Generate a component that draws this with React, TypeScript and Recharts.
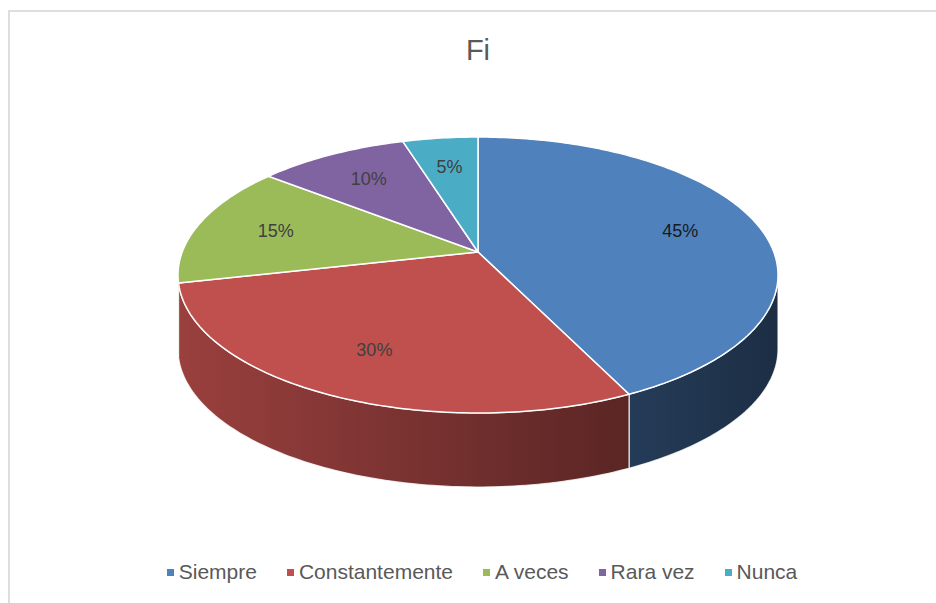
import React from 'react';
import { PieChart, Pie, Legend } from 'recharts';

const CATEGORIES = ['Siempre', 'Constantemente', 'A veces', 'Rara vez', 'Nunca'];
const VALUES = [45, 30, 15, 10, 5];
const LABELS = ['45%', '30%', '15%', '10%', '5%'];
const COLORS = ['#4f81bd', '#c0504d', '#9bbb59', '#8064a2', '#4bacc6'];
const TITLE = 'Fi';

const data = CATEGORIES.map((name, i) => ({ name, value: VALUES[i], label: LABELS[i] }));

const W = 936;
const H = 603;
const CX = 473;
const CY = 247;
const R = 300;
const RY = 0.46; // vertical squash of the tilted disc
const K = 0.1667; // perspective offset of the centre (Klein units)
const DEPTH = 74;
const A_P = K / (1 + Math.sqrt(1 - K * K));
const FONT = '"Liberation Sans", Arial, sans-serif';

function project(rho: number, phi: number, cx: number, cy: number, r: number) {
  const t = (phi * Math.PI) / 180;
  const kx = rho * Math.sin(t);
  const ky = -rho * Math.cos(t);
  const m2 = kx * kx + ky * ky;
  const f = 1 / (1 + Math.sqrt(Math.max(0, 1 - m2)));
  const px = kx * f;
  const py = ky * f;
  const aI = -A_P;
  const nx = px;
  const ny = py + aI;
  const dx = 1 + aI * py;
  const dyy = -aI * px;
  const den = dx * dx + dyy * dyy;
  const qx = (nx * dx + ny * dyy) / den;
  const qy = (ny * dx - nx * dyy) / den;
  const q2 = qx * qx + qy * qy;
  const g = 2 / (1 + q2);
  const wx = qx * g;
  const wy = qy * g;
  const ry = r * RY;
  const ecy = cy + K * ry;
  return { x: cx + r * wx, y: ecy + ry * wy, wy };
}

function findRight(): number {
  let lo = 0;
  let hi = 180;
  for (let i = 0; i < 60; i++) {
    const mid = (lo + hi) / 2;
    if (project(1, mid, 0, 0, 1).wy < 0) lo = mid;
    else hi = mid;
  }
  return (lo + hi) / 2;
}
const PHI_R = findRight();
const PHI_L = 360 - PHI_R;

function shade(hex: string, k: number) {
  const n = parseInt(hex.slice(1), 16);
  const r = Math.round(((n >> 16) & 255) * k);
  const g = Math.round(((n >> 8) & 255) * k);
  const b = Math.round((n & 255) * k);
  return `rgb(${r},${g},${b})`;
}

function arcPoints(s: number, e: number, cx: number, cy: number, r: number) {
  const pts: { x: number; y: number }[] = [];
  const n = Math.max(2, Math.ceil((e - s) / 1));
  for (let i = 0; i <= n; i++) {
    const phi = s + ((e - s) * i) / n;
    const p = project(1, phi, cx, cy, r);
    pts.push({ x: p.x, y: p.y });
  }
  return pts;
}

const renderSlice = (props: any) => {
  const { cx, cy, outerRadius, startAngle, endAngle, index } = props;
  const a = 90 - startAngle;
  const b = 90 - endAngle;
  const s = Math.min(a, b);
  const e = Math.max(a, b);
  const color = COLORS[index % COLORS.length];
  const top = arcPoints(s, e, cx, cy, outerRadius);
  const apex = project(0, 0, cx, cy, outerRadius);
  const topPath =
    `M${apex.x},${apex.y} ` + top.map((p) => `L${p.x},${p.y}`).join(' ') + ' Z';
  const ss = Math.max(s, PHI_R);
  const se = Math.min(e, PHI_L);
  let sidePath = '';
  if (se > ss) {
    const up = arcPoints(ss, se, cx, cy, outerRadius);
    const down = up.slice().reverse().map((p) => ({ x: p.x, y: p.y + DEPTH }));
    sidePath =
      `M${up[0].x},${up[0].y} ` +
      up.slice(1).map((p) => `L${p.x},${p.y}`).join(' ') +
      ' ' +
      down.map((p) => `L${p.x},${p.y}`).join(' ') +
      ' Z';
  }
  const gid = `side-grad-${index}`;
  return (
    <g key={`slice-${index}`}>
      <defs>
        <linearGradient id={gid} gradientUnits="userSpaceOnUse" x1={cx - outerRadius} y1={0} x2={cx + outerRadius} y2={0}>
          <stop offset="0%" stopColor={shade(color, 0.8)} />
          <stop offset="100%" stopColor={shade(color, 0.36)} />
        </linearGradient>
      </defs>
      {sidePath && (
        <path d={sidePath} fill={`url(#${gid})`} stroke="#ffffff" strokeOpacity={0.8} strokeWidth={1.2} strokeLinejoin="round" />
      )}
      <path d={topPath} fill={color} stroke="#ffffff" strokeWidth={1.5} strokeLinejoin="round" />
    </g>
  );
};

const renderText = (props: any) => {
  const { cx, cy, outerRadius, startAngle, endAngle, index } = props;
  const a = 90 - startAngle;
  const b = 90 - endAngle;
  const mid = (a + b) / 2;
  const p = project(0.72, mid, cx, cy, outerRadius);
  return (
    <text
      key={`lbl-${index}`}
      x={p.x}
      y={p.y}
      textAnchor="middle"
      dominantBaseline="central"
      fontFamily={FONT}
      fontSize={18}
      fill={index === 0 ? '#1a1a1a' : '#404040'}
    >
      {LABELS[index]}
    </text>
  );
};

const renderLegend = () => (
  <div
    style={{
      display: 'flex',
      justifyContent: 'center',
      alignItems: 'center',
      gap: 30,
      fontFamily: FONT,
      fontSize: 21,
      color: '#595959',
      height: 24,
      paddingLeft: 28,
    }}
  >
    {CATEGORIES.map((c, i) => (
      <div key={c} style={{ display: 'flex', alignItems: 'center' }}>
        <span style={{ width: 7, height: 7, background: COLORS[i], display: 'inline-block', marginRight: 5 }} />
        <span style={{ lineHeight: '24px' }}>{c}</span>
      </div>
    ))}
  </div>
);

export default function App() {
  return (
    <div style={{ position: 'absolute', left: 0, top: 0, width: W, height: H, background: '#ffffff', overflow: 'hidden' }}>
      <div
        style={{
          position: 'absolute',
          left: 8,
          top: 10,
          width: W,
          height: H,
          border: '2px solid #dedede',
          boxSizing: 'border-box',
        }}
      />
      <div
        style={{
          position: 'absolute',
          left: 0,
          top: 34,
          width: W,
          textAlign: 'center',
          fontFamily: FONT,
          fontSize: 29,
          color: '#595959',
          paddingLeft: 20,
          boxSizing: 'border-box',
        }}
      >
        {TITLE}
      </div>
      <div style={{ position: 'absolute', left: 0, top: 0 }}>
        <PieChart width={W} height={H}>
          <Pie
            data={data}
            dataKey="value"
            nameKey="name"
            cx={CX}
            cy={CY}
            outerRadius={R}
            startAngle={90}
            endAngle={-270}
            fill="transparent"
            stroke="none"
            label={renderSlice}
            labelLine={false}
            isAnimationActive={false}
          />
          <Pie
            data={data}
            dataKey="value"
            nameKey="name"
            cx={CX}
            cy={CY}
            outerRadius={R}
            startAngle={90}
            endAngle={-270}
            fill="transparent"
            stroke="none"
            label={renderText}
            labelLine={false}
            isAnimationActive={false}
          />
          <Legend
            content={renderLegend}
            wrapperStyle={{ position: 'absolute', left: 0, top: 560, width: W, height: 24 }}
          />
        </PieChart>
      </div>
    </div>
  );
}
